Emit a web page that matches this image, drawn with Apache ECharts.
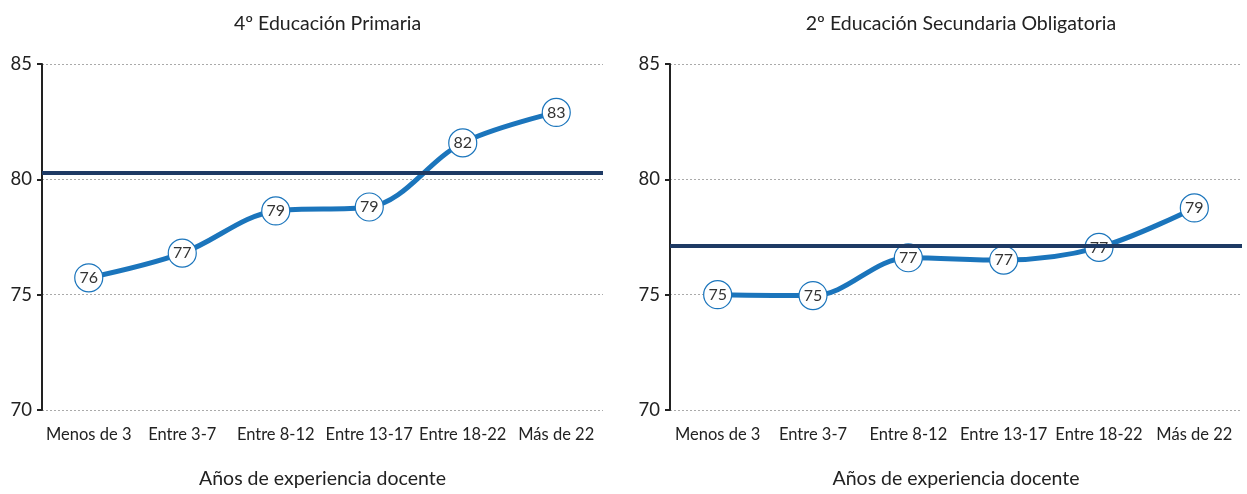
<!DOCTYPE html>
<html>
<head>
<meta charset="utf-8">
<script src="https://cdn.jsdelivr.net/npm/echarts@6/dist/echarts.min.js"></script>
<style>html,body{margin:0;padding:0;background:#fff}#c{width:1247px;height:494px}</style>
</head>
<body>
<div id="c"></div>
<script>
var categories = ['Menos de 3', 'Entre 3-7', 'Entre 8-12', 'Entre 13-17', 'Entre 18-22', 'Más de 22'];
var titles = ['4º Educación Primaria', '2º Educación Secundaria Obligatoria'];
var primaria = [75.73, 76.8, 78.63, 78.8, 81.58, 82.9];
var secundaria = [75.0, 74.96, 76.6, 76.5, 77.05, 78.76];
var referencia = [80.3, 77.1];
var yTicks = [70, 75, 80, 85];
var axisName = 'Años de experiencia docente';

var FONT = 'Lato';
var chart = echarts.init(document.getElementById('c'));
var grids = [
  {left: 42, top: 64, width: 561, height: 351},
  {left: 670, top: 64, width: 572, height: 351}
];
var seriesData = [primaria, secundaria];

var option = {
  animation: false,
  textStyle: {fontFamily: FONT},
  title: titles.map(function (t, i) {
    return {text: t, left: grids[i].left + grids[i].width / 2, top: 9, textAlign: 'center',
      textStyle: {fontFamily: FONT, fontSize: 19.5, fontWeight: 'normal', color: '#222'}};
  }),
  grid: grids,
  xAxis: grids.map(function (g, i) {
    return {type: 'category', gridIndex: i, data: categories, boundaryGap: true,
      axisLine: {show: false}, axisTick: {show: false},
      axisLabel: {fontFamily: FONT, fontSize: 16.5, color: '#222', margin: 16, interval: 0},
      name: axisName, nameLocation: 'middle', nameGap: 59,
      nameTextStyle: {fontFamily: FONT, fontSize: 19.5, color: '#222'}};
  }),
  yAxis: grids.map(function (g, i) {
    return {type: 'value', gridIndex: i, min: yTicks[0], max: yTicks[yTicks.length - 1], interval: 5,
      axisLine: {show: true, lineStyle: {color: '#222', width: 2}},
      axisTick: {show: true, length: 5, lineStyle: {color: '#222', width: 2}},
      axisLabel: {fontFamily: FONT, fontSize: 18.5, color: '#222', margin: 10},
      splitLine: {show: true, lineStyle: {color: '#aaaaaa', width: 1, type: [2, 2]}}};
  }),
  series: []
};

seriesData.forEach(function (d, i) {
  option.series.push({
    type: 'line', xAxisIndex: i, yAxisIndex: i, data: [], z: 1, silent: true,
    markLine: {symbol: 'none', silent: true, label: {show: false},
      lineStyle: {color: '#1e3a64', width: 4, type: 'solid'},
      data: [{yAxis: referencia[i]}]}
  });
  option.series.push({
    type: 'line', xAxisIndex: i, yAxisIndex: i, data: d, z: 3, smooth: 0.35,
    lineStyle: {color: '#1b75bc', width: 5},
    symbol: 'circle', symbolSize: 28,
    itemStyle: {color: '#ffffff', borderColor: '#1b75bc', borderWidth: 1.2},
    label: {show: true, position: 'inside', fontFamily: FONT, fontSize: 16, color: '#333',
      formatter: function (p) { return Math.round(p.value); }}
  });
});

chart.setOption(option);
</script>
</body>
</html>
